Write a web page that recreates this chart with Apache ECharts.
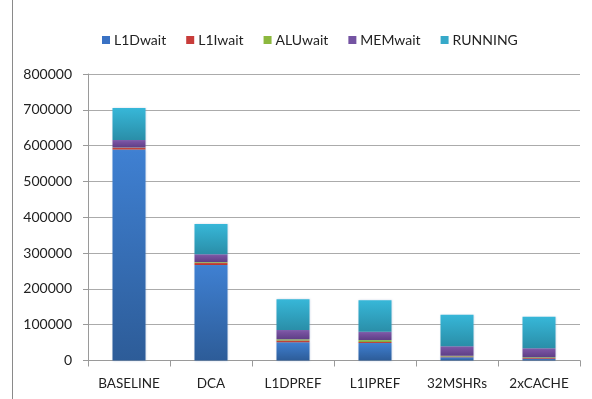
<!DOCTYPE html>
<html>
<head>
<meta charset="utf-8">
<script src="https://cdn.jsdelivr.net/npm/echarts@6/dist/echarts.min.js"></script>
<style>
  html, body { margin: 0; padding: 0; background: #fff; }
  #chart { width: 592px; height: 399px; }
</style>
</head>
<body>
<div id="chart"></div>
<script>
// Benchmark configurations on the x axis
const categories = ['BASELINE', 'DCA', 'L1DPREF', 'L1IPREF', '32MSHRs', '2xCACHE'];

// Cycle breakdown per configuration (stacked bottom to top)
const l1dWait  = [589000, 267000, 51000, 49000, 9000, 5000];
const l1iWait  = [5000, 6000, 5000, 3000, 2000, 2000];
const aluWait  = [1000, 2000, 3000, 5000, 2000, 2000];
const memWait  = [21000, 22000, 26000, 23000, 27000, 25000];
const running  = [89000, 84000, 86000, 88000, 88000, 88000];

// Y axis tick values
const yTicks = [0, 100000, 200000, 300000, 400000, 500000, 600000, 700000, 800000];

const FONT = 'Lato, "Open Sans", sans-serif';

function grad(top, bottom) {
  return new echarts.graphic.LinearGradient(0, 0, 0, 1, [
    { offset: 0, color: top },
    { offset: 1, color: bottom }
  ]);
}

const seriesDefs = [
  { name: 'L1Dwait', data: l1dWait, top: '#3f80d2', bottom: '#2d5c98', legend: '#3a72c4' },
  { name: 'L1Iwait', data: l1iWait, top: '#d2473a', bottom: '#b8352b', legend: '#c83c3a' },
  { name: 'ALUwait', data: aluWait, top: '#9cc455', bottom: '#7fa83c', legend: '#8cb83e' },
  { name: 'MEMwait', data: memWait, top: '#8058a8', bottom: '#5e3e86', legend: '#7453a2' },
  { name: 'RUNNING', data: running, top: '#37b7d8', bottom: '#2a8ea8', legend: '#36a9c9' }
];

const chart = echarts.init(document.getElementById('chart'), null, { renderer: 'canvas' });

chart.setOption({
  animation: false,
  backgroundColor: '#ffffff',
  textStyle: { fontFamily: FONT },
  legend: {
    left: 97,
    top: 28,
    itemWidth: 8,
    itemHeight: 8,
    itemGap: 20,
    icon: 'rect',
    textStyle: { fontFamily: FONT, fontSize: 14, color: '#222', padding: [0, 0, 0, -1] },
    data: seriesDefs.map(s => ({ name: s.name, itemStyle: { color: s.legend } }))
  },
  grid: { left: 88, right: 12, top: 74, bottom: 38.5 },
  xAxis: {
    type: 'category',
    data: categories,
    axisLine: { lineStyle: { color: '#9a9a9a', width: 1 } },
    axisTick: { show: true, length: 6, lineStyle: { color: '#9a9a9a' } },
    axisLabel: { fontFamily: FONT, fontSize: 13.5, color: '#222', margin: 16 }
  },
  yAxis: {
    type: 'value',
    min: yTicks[0],
    max: yTicks[yTicks.length - 1],
    interval: yTicks[1] - yTicks[0],
    axisLine: { show: true, lineStyle: { color: '#9a9a9a', width: 1 } },
    axisTick: { show: true, length: 5, lineStyle: { color: '#9a9a9a' } },
    axisLabel: {
      fontFamily: FONT, fontSize: 14, color: '#222', margin: 16,
      formatter: v => String(v)
    },
    splitLine: { show: true, lineStyle: { color: '#ababab', width: 1 } }
  },
  series: seriesDefs.map(s => ({
    name: s.name,
    type: 'bar',
    stack: 'total',
    barWidth: 33,
    data: s.data,
    itemStyle: {
      color: grad(s.top, s.bottom),
      shadowColor: 'rgba(120,150,190,0.35)',
      shadowBlur: 2
    },
    emphasis: { disabled: true }
  })),
  graphic: [
    {
      type: 'line',
      shape: { x1: 12.5, y1: 0, x2: 12.5, y2: 399 },
      style: { stroke: '#8a8a8a', lineWidth: 1 }
    }
  ]
});
</script>
</body>
</html>
